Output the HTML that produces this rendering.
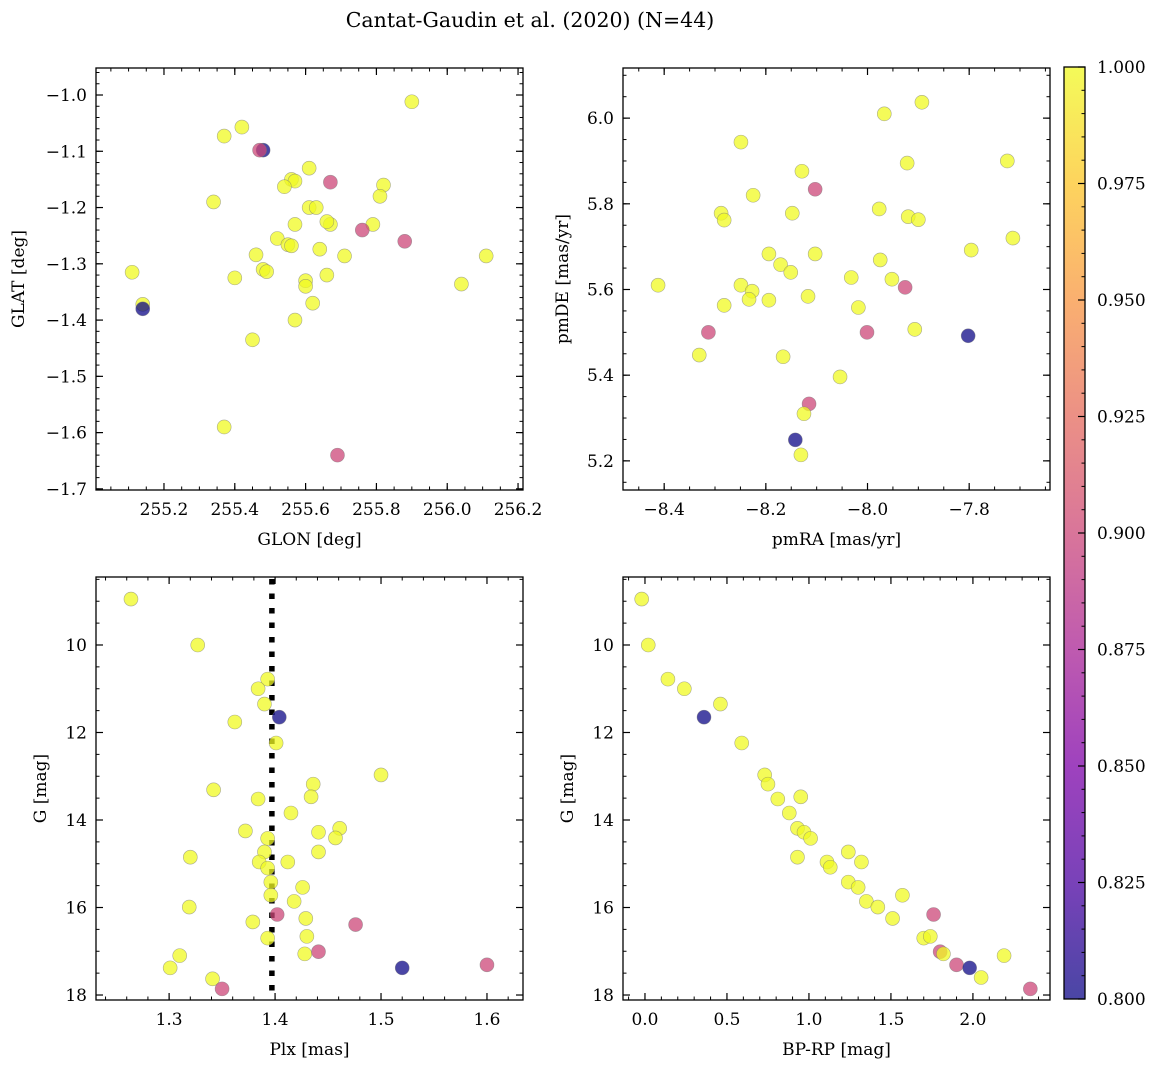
<!DOCTYPE html>
<html><head><meta charset="utf-8"><style>
html,body{margin:0;padding:0;background:#fff;}
svg text{font-family:"DejaVu Serif","Liberation Serif",serif;fill:#000;}
</style></head><body>
<svg id="fig" width="1161" height="1067" viewBox="0 0 1161 1067" xmlns="http://www.w3.org/2000/svg">
<rect width="1161" height="1067" fill="#fff"/>
<text x="530" y="27" font-size="20.5" text-anchor="middle">Cantat-Gaudin et al. (2020) (N=44)</text>
<defs>
<linearGradient id="cbg" x1="0" y1="1" x2="0" y2="0">
<stop offset="0" stop-color="#0d0887"/><stop offset="0.125" stop-color="#4c02a1"/><stop offset="0.25" stop-color="#7e03a8"/><stop offset="0.375" stop-color="#a92395"/><stop offset="0.5" stop-color="#cc4778"/><stop offset="0.625" stop-color="#e56b5d"/><stop offset="0.75" stop-color="#f89540"/><stop offset="0.875" stop-color="#fdc527"/><stop offset="1" stop-color="#f0f921"/>
</linearGradient>
</defs>
<g id="panels"></g>
</svg>
<script>
// ---- data arrays ----
const tlGlon=[255.90,255.37,255.42,255.48,255.47,255.61,255.67,255.82,255.56,255.57,255.54,255.81,255.34,255.61,255.63,255.57,255.67,255.66,255.79,255.76,255.52,255.88,255.55,255.56,255.64,255.46,255.71,256.11,255.11,255.48,255.49,255.40,255.60,255.60,255.66,256.04,255.62,255.14,255.14,255.57,255.45,255.37,255.69];
const tlGlat=[-1.012,-1.073,-1.057,-1.098,-1.098,-1.130,-1.155,-1.160,-1.150,-1.153,-1.163,-1.180,-1.190,-1.200,-1.200,-1.230,-1.230,-1.225,-1.230,-1.240,-1.255,-1.260,-1.266,-1.268,-1.274,-1.284,-1.286,-1.286,-1.315,-1.310,-1.314,-1.325,-1.330,-1.340,-1.320,-1.336,-1.370,-1.372,-1.380,-1.400,-1.435,-1.590,-1.640];
const tlProb=[1,1,1,0.8,0.9,1,0.9,1,1,1,1,1,1,1,1,1,1,1,1,0.9,1,0.9,1,1,1,1,1,1,1,1,1,1,1,1,1,1,1,1,0.8,1,1,1,0.9];

const trPmra=[-7.893,-7.967,-8.249,-8.129,-7.725,-7.922,-8.103,-8.225,-8.288,-8.282,-7.977,-8.148,-7.920,-7.900,-8.194,-8.103,-7.796,-7.714,-8.171,-7.975,-8.151,-8.032,-7.952,-8.412,-8.249,-8.227,-7.926,-8.233,-8.194,-8.117,-8.282,-8.018,-8.313,-8.001,-7.907,-7.802,-8.331,-8.166,-8.054,-8.115,-8.125,-8.142,-8.131];
const trPmde=[6.037,6.010,5.944,5.876,5.900,5.895,5.834,5.820,5.778,5.762,5.788,5.778,5.770,5.763,5.683,5.683,5.692,5.720,5.658,5.669,5.640,5.628,5.624,5.610,5.610,5.596,5.605,5.577,5.575,5.584,5.563,5.558,5.500,5.500,5.507,5.492,5.447,5.443,5.396,5.333,5.310,5.249,5.214];
const trProb=[1,1,1,1,1,1,0.9,1,1,1,1,1,1,1,1,1,1,1,1,1,1,1,1,1,1,1,0.9,1,1,1,1,1,0.9,0.9,1,0.8,1,1,1,0.9,1,0.8,1];

const blPlx=[1.264,1.327,1.393,1.384,1.390,1.404,1.362,1.401,1.342,1.384,1.415,1.436,1.434,1.500,1.372,1.393,1.390,1.385,1.393,1.412,1.320,1.441,1.441,1.461,1.457,1.396,1.396,1.426,1.418,1.319,1.402,1.379,1.429,1.476,1.430,1.393,1.310,1.428,1.441,1.301,1.520,1.600,1.341,1.350];
const blG=[8.95,10.0,10.78,11.0,11.35,11.65,11.76,12.24,13.31,13.52,13.84,13.18,13.47,12.97,14.25,14.42,14.73,14.96,15.1,14.96,14.85,14.28,14.73,14.19,14.41,15.42,15.72,15.54,15.86,15.99,16.16,16.33,16.25,16.39,16.66,16.7,17.1,17.06,17.01,17.38,17.38,17.31,17.63,17.86];
const blProb=[1,1,1,1,1,0.8,1,1,1,1,1,1,1,1,1,1,1,1,1,1,1,1,1,1,1,1,1,1,1,1,0.9,1,1,0.9,1,1,1,1,0.9,1,0.8,0.9,1,0.9];
const plxLine=[1.397];

const brColor=[-0.02,0.02,0.14,0.24,0.46,0.36,0.59,0.73,0.75,0.81,0.95,0.88,0.93,0.97,1.01,0.93,1.24,1.11,1.32,1.13,1.24,1.30,1.35,1.42,1.57,1.51,1.76,1.70,1.74,1.80,1.82,1.90,1.98,2.19,2.05,2.35];
const brG=[8.95,10.0,10.78,11.0,11.35,11.65,12.24,12.97,13.18,13.52,13.47,13.84,14.19,14.28,14.42,14.85,14.73,14.96,14.96,15.08,15.42,15.54,15.86,15.99,15.72,16.25,16.16,16.7,16.66,17.01,17.06,17.31,17.38,17.1,17.6,17.86];
const brProb=[1,1,1,1,1,0.8,1,1,1,1,1,1,1,1,1,1,1,1,1,1,1,1,1,1,1,1,0.9,1,1,0.9,1,0.9,0.8,1,1,0.9];

const cbTicks=["0.800","0.825","0.850","0.875","0.900","0.925","0.950","0.975","1.000"];

const NS='http://www.w3.org/2000/svg';
const root=document.getElementById('panels');
function mk(tag,attrs,parent){const e=document.createElementNS(NS,tag);for(const k in attrs)e.setAttribute(k,attrs[k]);(parent||root).appendChild(e);return e;}
const stops=[[0,[13,8,135]],[0.125,[76,2,161]],[0.25,[126,3,168]],[0.375,[169,35,149]],[0.5,[204,71,120]],[0.625,[229,107,93]],[0.75,[248,149,64]],[0.875,[253,197,39]],[1,[240,249,33]]];
function plasma(t){t=Math.max(0,Math.min(1,t));for(let i=1;i<stops.length;i++){if(t<=stops[i][0]){const a=stops[i-1],b=stops[i],f=(t-a[0])/(b[0]-a[0]);return 'rgb('+a[1].map((v,j)=>Math.round(v+(b[1][j]-v)*f)).join(',')+')';}}return 'rgb(240,249,33)';}
function fmt(v,d){let s=v.toFixed(d);if(v<0)s='\u2212'+s.slice(1);return s;}

function panel(o){
  const g=mk('g',{});
  
  
  const sx=v=>o.x0+(v-o.xmin)/(o.xmax-o.xmin)*(o.x1-o.x0);
  const sy=o.yinv?(v=>o.y0+(v-o.ymin)/(o.ymax-o.ymin)*(o.y1-o.y0)):(v=>o.y1-(v-o.ymin)/(o.ymax-o.ymin)*(o.y1-o.y0));
  const lo=Math.min(o.ymin,o.ymax),hi=Math.max(o.ymin,o.ymax);
  function ticks(step,min,max){const r=[];for(let v=Math.ceil(min/step-1e-6)*step;v<=max+1e-9;v+=step)r.push(v);return r;}
  ticks(o.xminor,o.xmin,o.xmax).forEach(v=>{const x=sx(v);mk('line',{x1:x,x2:x,y1:o.y1,y2:o.y1-3.5,stroke:'#000','stroke-width':1},g);mk('line',{x1:x,x2:x,y1:o.y0,y2:o.y0+3.5,stroke:'#000','stroke-width':1},g);});
  ticks(o.xmajor,o.xmin,o.xmax).forEach(v=>{const x=sx(v);mk('line',{x1:x,x2:x,y1:o.y1,y2:o.y1-7,stroke:'#000','stroke-width':1.2},g);mk('line',{x1:x,x2:x,y1:o.y0,y2:o.y0+7,stroke:'#000','stroke-width':1.2},g);
    const t=mk('text',{x:x,y:o.y1+25,'font-size':17,'text-anchor':'middle'},g);t.textContent=fmt(v,o.xd);
    
    });
  ticks(o.yminor,lo,hi).forEach(v=>{const y=sy(v);mk('line',{x1:o.x0,x2:o.x0+3.5,y1:y,y2:y,stroke:'#000','stroke-width':1},g);mk('line',{x1:o.x1,x2:o.x1-3.5,y1:y,y2:y,stroke:'#000','stroke-width':1},g);});
  ticks(o.ymajor,lo,hi).forEach(v=>{const y=sy(v);mk('line',{x1:o.x0,x2:o.x0+7,y1:y,y2:y,stroke:'#000','stroke-width':1.2},g);mk('line',{x1:o.x1,x2:o.x1-7,y1:y,y2:y,stroke:'#000','stroke-width':1.2},g);
    const t=mk('text',{x:o.x0-9,y:y+6,'font-size':17,'text-anchor':'end'},g);t.textContent=fmt(v,o.yd);
    
    });
  if(o.vline){const x=sx(o.vline[0]);const l=mk('line',{x1:x,x2:x,y1:o.y0+2,y2:o.y1,stroke:'#000','stroke-width':5.5,'stroke-dasharray':'5.5 9'},g);
    
    }
  o.xs.forEach((v,i)=>{const c=mk('circle',{cx:sx(v),cy:sy(o.ys[i]),r:7,fill:plasma((o.p[i]-0.8)/0.2),'fill-opacity':0.75,stroke:'#777','stroke-opacity':0.6,'stroke-width':0.6},g);
    
    });
  const fr=mk('rect',{x:o.x0,y:o.y0,width:o.x1-o.x0,height:o.y1-o.y0,fill:'none',stroke:'#000','stroke-width':1.3},g);
  
  
  const xl=mk('text',{x:(o.x0+o.x1)/2,y:o.y1+55,'font-size':17,'text-anchor':'middle'},g);xl.textContent=o.xlabel;
  
  
  const yc=(o.y0+o.y1)/2;
  const yl=mk('text',{x:o.ylx,y:yc,'font-size':17,'text-anchor':'middle',transform:'rotate(-90 '+o.ylx+' '+yc+')'},g);yl.textContent=o.ylabel;
  
  
}

panel({name:'glon-glat-panel',x0:96,x1:523,y0:68,y1:490,xmin:255.008,xmax:256.214,ymin:-1.702,ymax:-0.952,xmajor:0.2,xminor:0.05,ymajor:0.1,yminor:0.02,xd:1,yd:1,xs:tlGlon,ys:tlGlat,p:tlProb,xlabel:'GLON [deg]',ylabel:'GLAT [deg]',ylx:24});
panel({name:'proper-motion-panel',x0:623,x1:1050,y0:68,y1:490,xmin:-8.481,xmax:-7.641,ymin:5.132,ymax:6.117,xmajor:0.2,xminor:0.05,ymajor:0.2,yminor:0.05,xd:1,yd:1,xs:trPmra,ys:trPmde,p:trProb,xlabel:'pmRA [mas/yr]',ylabel:'pmDE [mas/yr]',ylx:568});
panel({name:'plx-g-panel',x0:96,x1:523,y0:577,y1:1000,xmin:1.231,xmax:1.634,ymin:8.446,ymax:18.114,yinv:true,xmajor:0.1,xminor:0.02,ymajor:2,yminor:0.5,xd:1,yd:0,xs:blPlx,ys:blG,p:blProb,vline:plxLine,xlabel:'Plx [mas]',ylabel:'G [mag]',ylx:46});
panel({name:'cmd-panel',x0:623,x1:1050,y0:577,y1:1000,xmin:-0.134,xmax:2.47,ymin:8.446,ymax:18.114,yinv:true,xmajor:0.5,xminor:0.1,ymajor:2,yminor:0.5,xd:1,yd:0,xs:brColor,ys:brG,p:brProb,xlabel:'BP-RP [mag]',ylabel:'G [mag]',ylx:573});

const cb=mk('g',{});


const cbx0=1064,cbx1=1085,cby0=67,cby1=999;
mk('rect',{x:cbx0,y:cby0,width:cbx1-cbx0,height:cby1-cby0,fill:'url(#cbg)','fill-opacity':0.75},cb);
const cy=v=>cby1-(v-0.8)/0.2*(cby1-cby0);
for(let k=0;k<=40;k++){const v=0.8+k*0.005;const y=cy(v);mk('line',{x1:cbx1,x2:cbx1-3.5,y1:y,y2:y,stroke:'#000','stroke-width':1},cb);}
cbTicks.forEach(s=>{const y=cy(parseFloat(s));mk('line',{x1:cbx1,x2:cbx1-7,y1:y,y2:y,stroke:'#000','stroke-width':1.2},cb);
  const t=mk('text',{x:1097,y:y+6,'font-size':17},cb);t.textContent=s;
  
  });
mk('rect',{x:cbx0,y:cby0,width:cbx1-cbx0,height:cby1-cby0,fill:'none',stroke:'#000','stroke-width':1.3},cb);
</script>
</body></html>
